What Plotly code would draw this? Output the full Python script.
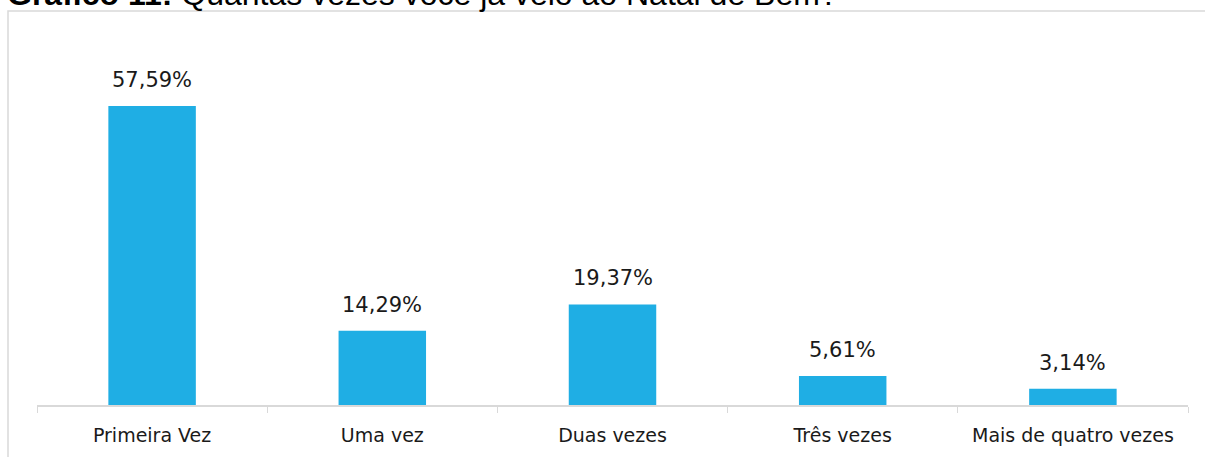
import plotly.graph_objects as go

categories = ["Primeira Vez", "Uma vez", "Duas vezes", "Três vezes", "Mais de quatro vezes"]
values = [57.59, 14.29, 19.37, 5.61, 3.14]
labels = ["57,59%", "14,29%", "19,37%", "5,61%", "3,14%"]
title_text = "<b>Gráfico 11:</b> Quantas vezes você já veio ao Natal de Bem?"

W, H = 1205, 457
ml, mr, mt, mb = 37, 17, 40, 52
pw, ph = W - ml - mr, H - mt - mb

def px(x):
    return (x - ml) / pw

def py(y):
    return (H - mb - y) / ph

FONT = "Century Gothic, DejaVu Sans, sans-serif"

fig = go.Figure(go.Bar(
    x=categories, y=values,
    marker=dict(color="#1FAEE4", line=dict(width=0)),
    width=0.38, hoverinfo="x+y",
))

label_annotations = [
    dict(x=c, y=v, text=t, xref="x", yref="y", showarrow=False,
         xanchor="center", yanchor="bottom", yshift=12,
         font=dict(family=FONT, size=21, color="#1a1a1a"))
    for c, v, t in zip(categories, values, labels)
]

fig.update_layout(
    width=W, height=H, margin=dict(l=ml, r=mr, t=mt, b=mb),
    paper_bgcolor="white", plot_bgcolor="white", showlegend=False,
    xaxis=dict(showline=True, linecolor="#d9d9d9", linewidth=1.5,
               ticks="outside", tickson="boundaries", ticklen=6, tickcolor="#d9d9d9",
               ticklabelstandoff=12,
               tickfont=dict(family=FONT, size=19, color="#1a1a1a"),
               showgrid=False),
    yaxis=dict(range=[0, ph / 5.19], visible=False, showgrid=False),
    shapes=[dict(type="rect", xref="paper", yref="paper",
                 x0=px(8), x1=px(1215), y0=py(470), y1=py(11),
                 line=dict(color="#d9d9d9", width=1.5), fillcolor="rgba(0,0,0,0)", layer="below")],
    annotations=label_annotations + [dict(text=title_text, xref="paper", yref="paper",
                      x=px(5), y=py(14), xanchor="left", yanchor="bottom",
                      showarrow=False,
                      font=dict(family="Liberation Sans, Arial", size=32, color="black"))],
)

fig.write_html("out.html", config={"displayModeBar": False},
               post_script="document.body.style.margin='0';")
